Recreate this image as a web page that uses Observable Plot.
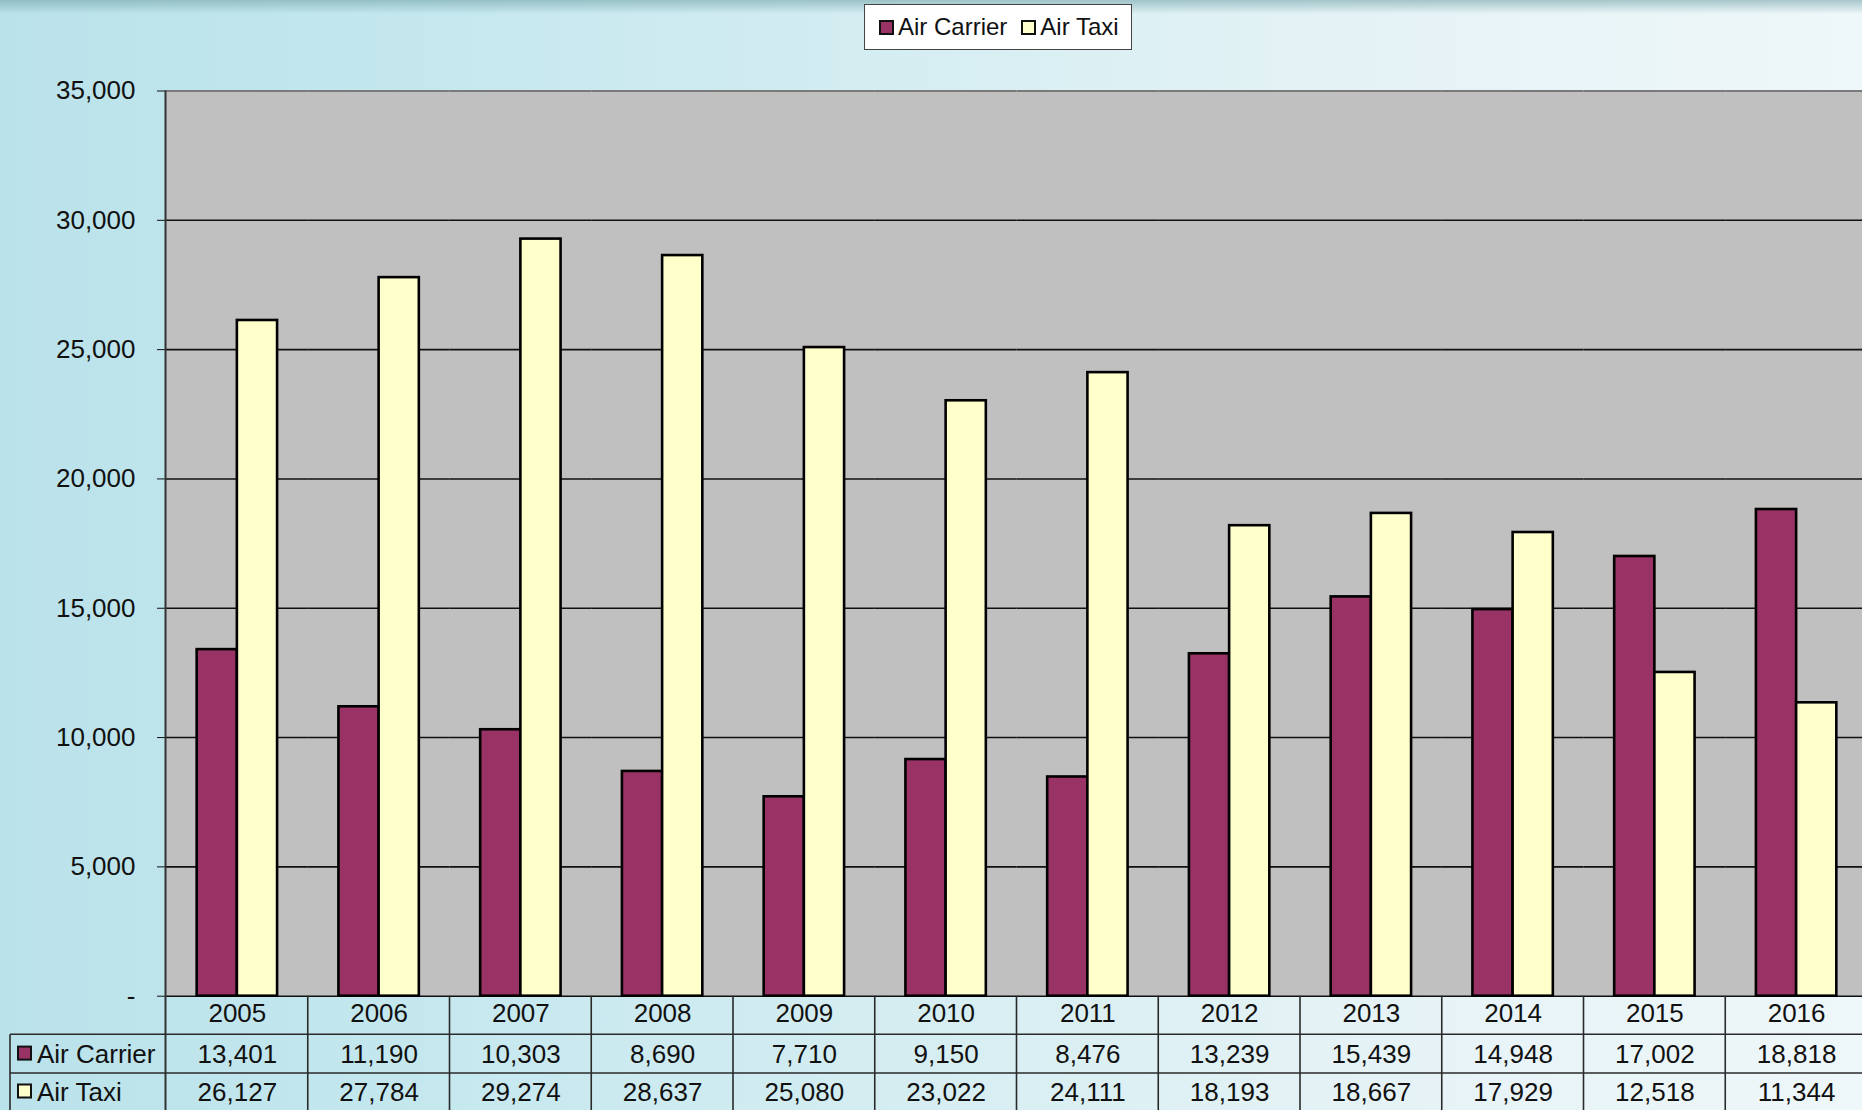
<!DOCTYPE html>
<html>
<head>
<meta charset="utf-8">
<script src="https://cdn.jsdelivr.net/npm/d3@7"></script>
<script src="https://cdn.jsdelivr.net/npm/@observablehq/plot@0.6"></script>
<style>
html, body { margin: 0; padding: 0; overflow: hidden; }
body { width: 1862px; height: 1110px; font-family: "Liberation Sans", Arial, sans-serif; }
#wrap {
  position: relative; width: 1862px; height: 1110px; overflow: hidden;
  background: linear-gradient(to right, #bae2ea 0%, #c6e8ef 25%, #d6eef2 50%, #e6f3f6 75%, #eef7fa 100%);
}
#topband {
  position: absolute; left: 0; top: 0; width: 1862px; height: 14px;
  background: linear-gradient(to bottom, rgba(110,160,165,0.55), rgba(110,160,165,0));
}
#chart { position: absolute; left: 0; top: 0; }
#chart svg { max-width: none; }
#legend {
  position: absolute; left: 864px; top: 4px; width: 268px; height: 46px; box-sizing: border-box;
  background: #fff; border: 1.5px solid #444; display: flex; align-items: center; white-space: nowrap;
  font-size: 24px; color: #111; padding-left: 14px; z-index: 2;
}
#legend .sw { width: 11px; height: 11px; border: 2px solid #111; display: inline-block; margin-right: 4px; flex: none; }
#legend .item { display: flex; align-items: center; margin-right: 14px; white-space: nowrap; }
</style>
</head>
<body>
<div id="wrap">
  <div id="topband"></div>
  <div id="chart"></div>
  <div id="legend"></div>
</div>
<script>
// ---- data ----
const years = ["2005","2006","2007","2008","2009","2010","2011","2012","2013","2014","2015","2016"];
const airCarrier = [13401, 11190, 10303, 8690, 7710, 9150, 8476, 13239, 15439, 14948, 17002, 18818];
const airTaxi = [26127, 27784, 29274, 28637, 25080, 23022, 24111, 18193, 18667, 17929, 12518, 11344];
const seriesNames = ["Air Carrier", "Air Taxi"];
const seriesColors = ["#993366", "#ffffcc"];
const yTicks = [0, 5000, 10000, 15000, 20000, 25000, 30000, 35000];

// ---- derived tables ----
const fmt = d3.format(",");
const rows = years.flatMap((yr, i) => [
  {year: yr, series: seriesNames[0], value: airCarrier[i]},
  {year: yr, series: seriesNames[1], value: airTaxi[i]}
]);
const table = years.map((yr, i) => ({year: yr, carrier: fmt(airCarrier[i]), taxi: fmt(airTaxi[i])}));

const FONT = "'Liberation Sans', Arial, sans-serif";

const plot = Plot.plot({
  width: 1867, height: 1110,
  marginTop: 90.5, marginBottom: 114.3, marginLeft: 166, marginRight: 0,
  style: {background: "transparent", fontFamily: FONT, fontSize: "26px", color: "#111", overflow: "visible"},
  fx: {domain: years, padding: 0, round: false, axis: null, label: null},
  x: {domain: seriesNames, paddingInner: 0, paddingOuter: 0.763, round: false, axis: null},
  y: {domain: [0, 35000], ticks: yTicks, tickFormat: d => d === 0 ? "-" : fmt(d), tickSize: 9, tickPadding: 22, label: null},
  color: {domain: seriesNames, range: seriesColors},
  marks: [
    Plot.frame({fill: "#c0c0c0", stroke: null, insetLeft: -0.75, insetRight: -0.75}),
    Plot.ruleY(yTicks.slice(0, -1), {stroke: "#111", strokeWidth: 1.6}),
    Plot.ruleY([yTicks[yTicks.length - 1]], {stroke: "#7a7a7a", strokeWidth: 2}),
    Plot.barY(rows, {fx: "year", x: "series", y: "value", fill: "series", stroke: "#000", strokeWidth: 2.6}),
    Plot.text(table, {fx: "year", frameAnchor: "bottom", lineAnchor: "middle", text: "year", dy: 17.5, fill: "#111"}),
    Plot.text(table, {fx: "year", frameAnchor: "bottom", lineAnchor: "middle", text: "carrier", dy: 58, fill: "#111"}),
    Plot.text(table, {fx: "year", frameAnchor: "bottom", lineAnchor: "middle", text: "taxi", dy: 96, fill: "#111"})
  ]
});
document.getElementById("chart").appendChild(plot);

// ---- data-table grid and row labels, positioned from Plot's own scales ----
const svg = d3.select(plot);
const fxS = plot.scale("fx");
const yS = plot.scale("y");
const bw = fxS.bandwidth;
const bandStart = yr => fxS.apply ? fxS.apply(yr) : fxS.range[0] + years.indexOf(yr) * fxS.step;
const y0 = yS.apply ? yS.apply(0) : 995.7;
const yTop = yS.apply ? yS.apply(35000) : 90.5;
const xLeft = bandStart(years[0]);
const xRight = bandStart(years[years.length - 1]) + bw;
const row1 = y0 + 38.5, row2 = y0 + 77.3, yBottom = 1110;
const g = svg.append("g").attr("stroke", "#2a2a2a").attr("stroke-width", 1.6);
// y axis line
g.append("line").attr("x1", xLeft - 0.5).attr("x2", xLeft - 0.5).attr("y1", yTop).attr("y2", yBottom).attr("stroke", "#333").attr("stroke-width", 2);
// horizontal table lines
[row1, row2].forEach(yy => g.append("line").attr("x1", 10).attr("x2", xRight).attr("y1", yy).attr("y2", yy));
// vertical column lines
years.slice(1).forEach(yr => {
  const xx = bandStart(yr);
  g.append("line").attr("x1", xx).attr("x2", xx).attr("y1", y0).attr("y2", yBottom);
});
g.append("line").attr("x1", 10).attr("x2", 10).attr("y1", row1).attr("y2", yBottom);
// row labels with swatches
const lab = svg.append("g").attr("font-family", FONT).attr("font-size", 26).attr("fill", "#111").attr("text-anchor", "start");
[[row1, row2], [row2, yBottom]].forEach(([a, b], i) => {
  const cy = (a + b) / 2;
  lab.append("rect").attr("x", 18).attr("y", cy - 7).attr("width", 13).attr("height", 13)
    .attr("fill", seriesColors[i]).attr("stroke", "#111").attr("stroke-width", 2);
  lab.append("text").attr("x", 37).attr("y", cy).attr("dy", "0.35em").attr("text-anchor", "start").text(seriesNames[i]);
});

// ---- legend ----
const legend = d3.select("#legend");
seriesNames.forEach((s, i) => {
  const it = legend.append("div").attr("class", "item");
  it.append("span").attr("class", "sw").style("background", seriesColors[i]);
  it.append("span").text(s);
});
</script>
</body>
</html>
